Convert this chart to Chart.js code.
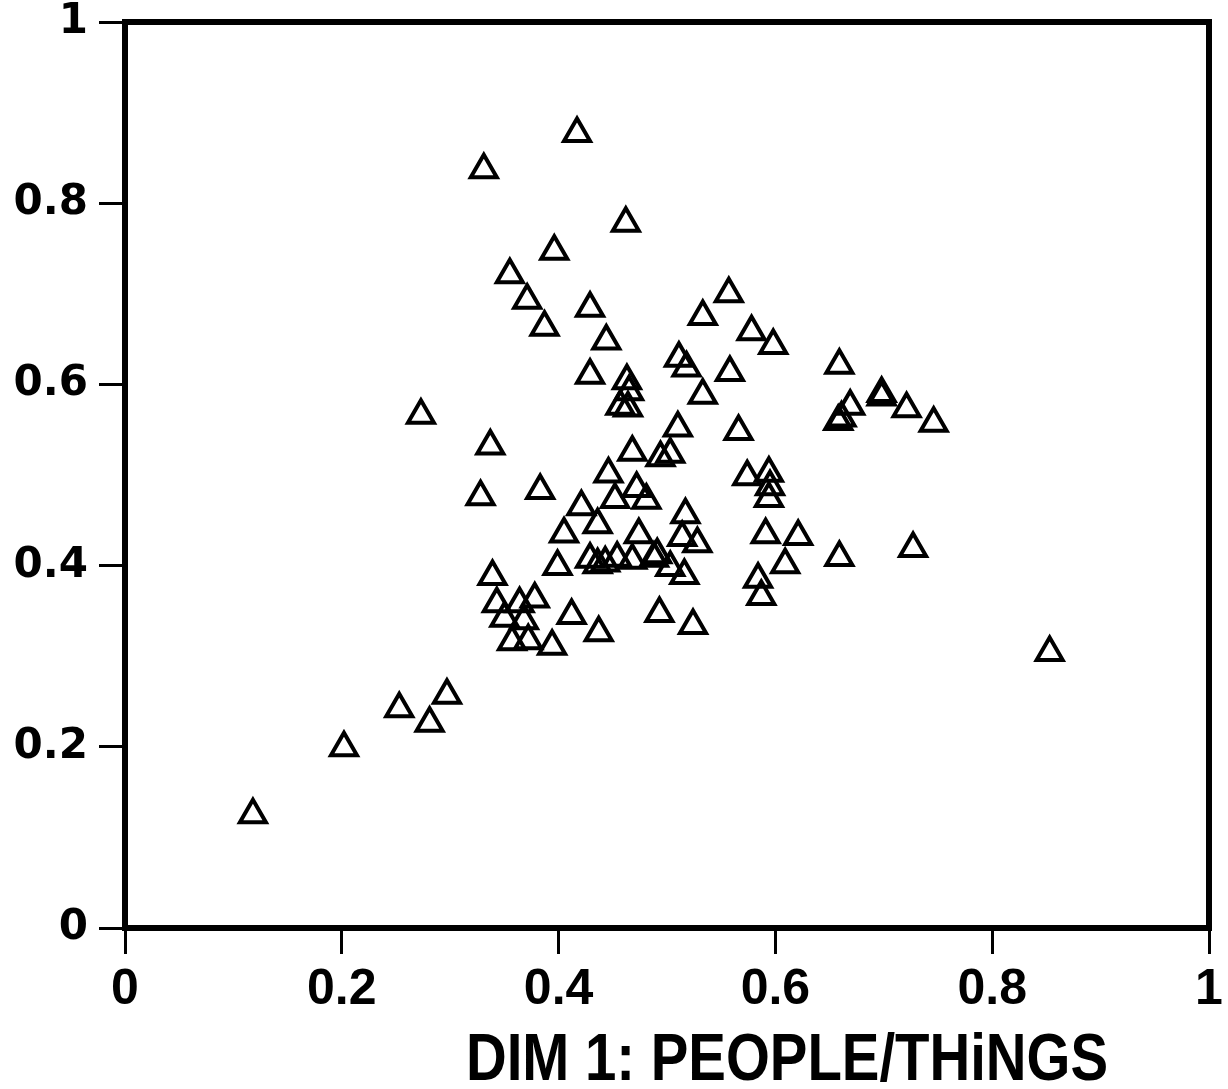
<!DOCTYPE html>
<html>
<head>
<meta charset="utf-8">
<title>DIM 1: PEOPLE/THiNGS</title>
<script src="https://cdn.jsdelivr.net/npm/chart.js@4.4.1/dist/chart.umd.min.js"></script>
<style>
  html, body { margin: 0; padding: 0; background: #fff; }
  #wrap { width: 1228px; height: 1089px; overflow: hidden; }
</style>
</head>
<body>
<div id="wrap">
  <canvas id="dimChart" width="1228" height="1089"></canvas>
</div>
<script>
// values (dim 1 = people/things, dim 2 = vertical)
const dim1 = [
  0.417, 0.331, 0.462, 0.396, 0.355, 0.371, 0.429, 0.387, 0.444, 0.557,
  0.533, 0.578, 0.598, 0.511, 0.518, 0.558, 0.533, 0.429, 0.463, 0.465,
  0.457, 0.464, 0.659, 0.698, 0.698, 0.721, 0.746, 0.669, 0.661, 0.658,
  0.273, 0.510, 0.566, 0.337, 0.468, 0.494, 0.503, 0.574, 0.594, 0.595,
  0.594, 0.446, 0.472, 0.452, 0.481, 0.383, 0.328, 0.421, 0.436, 0.517,
  0.514, 0.528, 0.474, 0.405, 0.591, 0.621, 0.659, 0.727, 0.429, 0.436,
  0.443, 0.454, 0.468, 0.488, 0.491, 0.503, 0.516, 0.399, 0.609, 0.584,
  0.587, 0.339, 0.343, 0.350, 0.364, 0.378, 0.368, 0.357, 0.372, 0.394,
  0.412, 0.437, 0.493, 0.524, 0.853, 0.118, 0.202, 0.253, 0.281, 0.297
];
const dim2 = [
  0.877, 0.837, 0.778, 0.747, 0.721, 0.693, 0.684, 0.663, 0.648, 0.700,
  0.675, 0.658, 0.643, 0.629, 0.618, 0.613, 0.588, 0.610, 0.604, 0.592,
  0.576, 0.574, 0.621, 0.590, 0.586, 0.573, 0.557, 0.576, 0.563, 0.559,
  0.566, 0.552, 0.548, 0.532, 0.525, 0.519, 0.523, 0.498, 0.502, 0.487,
  0.474, 0.501, 0.485, 0.473, 0.472, 0.483, 0.476, 0.465, 0.445, 0.456,
  0.431, 0.424, 0.434, 0.435, 0.434, 0.432, 0.409, 0.419, 0.407, 0.401,
  0.403, 0.408, 0.406, 0.408, 0.412, 0.398, 0.389, 0.399, 0.401, 0.385,
  0.366, 0.388, 0.358, 0.342, 0.358, 0.363, 0.339, 0.316, 0.317, 0.311,
  0.345, 0.326, 0.347, 0.334, 0.304, 0.125, 0.199, 0.242, 0.226, 0.257
];
const xTickLabels = ["0", "0.2", "0.4", "0.6", "0.8", "1"];
const yTickLabels = ["0", "0.2", "0.4", "0.6", "0.8", "1"];
const xTitle = "DIM 1: PEOPLE/THiNGS";

const points = dim1.map((x, i) => ({ x: x, y: dim2[i] }));

// heavy box round the plot + the axis title under it
const framePlugin = {
  id: "frame",
  afterDraw(chart) {
    const { ctx, chartArea } = chart;
    ctx.save();
    ctx.strokeStyle = "#000";
    ctx.lineWidth = 6;
    ctx.strokeRect(chartArea.left, chartArea.top,
      chartArea.right - chartArea.left, chartArea.bottom - chartArea.top);

    // condensed-looking title, squeezed to the width it has in the scan
    ctx.font = "bold 66px 'Liberation Sans', Arial, sans-serif";
    ctx.fillStyle = "#000";
    ctx.textBaseline = "alphabetic";
    const w = ctx.measureText(xTitle).width;
    const target = 642;
    ctx.translate(466, 1080);
    ctx.scale(target / w, 1);
    ctx.fillText(xTitle, 0, 0);
    ctx.restore();
  }
};

const yTickFont = { family: "'DejaVu Sans', sans-serif", size: 42, weight: "bold" };
const xTickFont = { family: "'Liberation Sans', Arial, sans-serif", size: 50, weight: "bold" };

const ctx = document.getElementById("dimChart").getContext("2d");
new Chart(ctx, {
  type: "scatter",
  data: {
    datasets: [{
      data: points,
      pointStyle: "triangle",
      pointRadius: 15,
      pointHoverRadius: 15,
      pointBorderWidth: 4,
      borderColor: "#000",
      backgroundColor: "rgba(0,0,0,0)"
    }]
  },
  options: {
    responsive: false,
    animation: false,
    layout: { padding: { top: 22, right: 15, left: 0, bottom: 0 } },
    plugins: {
      legend: { display: false },
      tooltip: { enabled: false }
    },
    scales: {
      x: {
        type: "linear",
        min: 0,
        max: 1,
        afterFit: (scale) => {
          scale.height = 161;
          scale.paddingLeft = 0;
          scale.paddingRight = 0;
        },
        ticks: {
          stepSize: 0.2,
          color: "#000",
          font: xTickFont,
          padding: 6,
          maxRotation: 0,
          callback: (value, index) => xTickLabels[index]
        },
        grid: {
          drawOnChartArea: false,
          drawTicks: true,
          tickLength: 26,
          color: "#000",
          lineWidth: 3
        },
        border: { display: false }
      },
      y: {
        type: "linear",
        min: 0,
        max: 1,
        afterFit: (scale) => {
          scale.width = 125;
          scale.paddingTop = 0;
          scale.paddingBottom = 0;
        },
        ticks: {
          stepSize: 0.2,
          color: "#000",
          font: yTickFont,
          padding: 11,
          callback: (value, index) => yTickLabels[index]
        },
        grid: {
          drawOnChartArea: false,
          drawTicks: true,
          tickLength: 26,
          color: "#000",
          lineWidth: 3
        },
        border: { display: false }
      }
    }
  },
  plugins: [framePlugin]
});
</script>
</body>
</html>
